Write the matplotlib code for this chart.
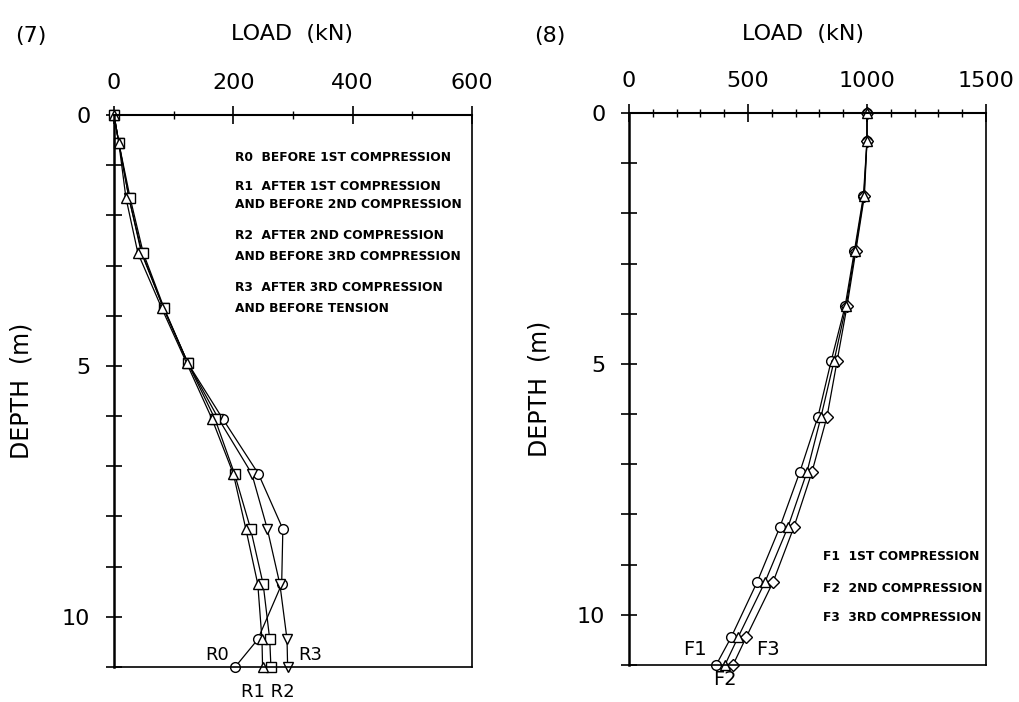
import numpy as np
import matplotlib.pyplot as plt

# depth of gauges (m)
depth = [0, 0.55, 1.65, 2.75, 3.85, 4.95, 6.05, 7.15, 8.25, 9.35, 10.45, 11.0]

# (7) residual loads (kN)
r0 = [0, 8, 25, 46, 83, 124, 182, 242, 283, 281, 241, 203]
r1 = [0, 8, 20, 40, 80, 122, 164, 200, 221, 241, 248, 249]
r2 = [0, 8, 27, 49, 84, 124, 169, 202, 229, 250, 261, 263]
r3 = [0, 8, 25, 47, 83, 124, 175, 231, 257, 278, 290, 291]

# (8) compression loads (kN)
f1 = [1000, 1000, 985, 947, 908, 849, 794, 718, 634, 538, 429, 366]
f2 = [1000, 1000, 987, 950, 912, 861, 807, 748, 668, 571, 458, 403]
f3 = [1000, 1000, 989, 953, 916, 874, 832, 769, 693, 605, 492, 437]

notes_r = ["R0  BEFORE 1ST COMPRESSION",
           "R1  AFTER 1ST COMPRESSION", "AND BEFORE 2ND COMPRESSION",
           "R2  AFTER 2ND COMPRESSION", "AND BEFORE 3RD COMPRESSION",
           "R3  AFTER 3RD COMPRESSION", "AND BEFORE TENSION"]
notes_r_y = [0.84, 1.43, 1.79, 2.41, 2.81, 3.43, 3.86]
notes_f = ["F1  1ST COMPRESSION", "F2  2ND COMPRESSION", "F3  3RD COMPRESSION"]
notes_f_y = [8.84, 9.48, 10.06]

W, H = 1019, 702
fig = plt.figure(figsize=(W / 100, H / 100), dpi=100)
note_font = dict(family=['Liberation Sans Narrow', 'DejaVu Sans'], weight='bold', fontsize=8.8)


def px_axes(x0, y0, x1, y1):
    return fig.add_axes([x0 / W, 1 - y1 / H, (x1 - x0) / W, (y1 - y0) / H])


def style(ax, xmax, xmajor):
    ax.set_xlim(0, xmax)
    ax.set_ylim(11, 0)
    ax.xaxis.tick_top()
    ax.set_xticks(np.arange(0, xmax + 1, xmajor))
    ax.set_xticks(np.arange(0, xmax + 1, 100), minor=True)
    ax.set_yticks([0, 5, 10])
    ax.set_yticks(np.arange(0, 12, 1), minor=True)
    ax.tick_params(axis='x', which='major', direction='inout', length=13, width=1.2,
                   labelsize=16, pad=9)
    ax.tick_params(axis='x', which='minor', direction='inout', length=6, width=1.0)
    ax.tick_params(axis='y', which='both', direction='inout', length=12, width=1.2,
                   labelsize=16, pad=11)
    for s in ax.spines.values():
        s.set_linewidth(1.2)
    ax.spines['left'].set_linewidth(1.8)
    ax.spines['top'].set_linewidth(1.5)


mk = dict(color='black', lw=0.9, markersize=7, markerfacecolor='white',
          markeredgecolor='black', markeredgewidth=1.0, clip_on=False)

# ---- (7)
ax1 = px_axes(114, 115, 472, 667)
style(ax1, 600, 200)
ax1.plot(r0, depth, marker='o', **mk)
ax1.plot(r3, depth, marker='v', **mk)
ax1.plot(r2, depth, marker='s', **mk)
ax1.plot(r1, depth, marker='^', **mk)
for t, yy in zip(notes_r, notes_r_y):
    ax1.text(203, yy, t, va='center', ha='left', **note_font)
ax1.text(173, 10.76, "R0", ha='center', va='center', fontsize=13)
ax1.text(329, 10.76, "R3", ha='center', va='center', fontsize=13)
ax1.text(258, 11.5, "R1 R2", ha='center', va='center', fontsize=13)
ax1.set_ylabel("DEPTH  (m)", fontsize=17)
ax1.yaxis.set_label_coords(-0.226, 0.5)

# ---- (8)
ax2 = px_axes(629, 113, 986, 665)
style(ax2, 1500, 500)
ax2.plot(f1, depth, marker='o', **mk)
ax2.plot(f3, depth, marker='D', **{**mk, 'markersize': 6})
ax2.plot(f2, depth, marker='^', **mk)
for t, yy in zip(notes_f, notes_f_y):
    ax2.text(815, yy, t, va='center', ha='left', **note_font)
ax2.text(277, 10.70, "F1", ha='center', va='center', fontsize=14)
ax2.text(584, 10.70, "F3", ha='center', va='center', fontsize=14)
ax2.text(403, 11.29, "F2", ha='center', va='center', fontsize=14)
ax2.set_ylabel("DEPTH  (m)", fontsize=17)
ax2.yaxis.set_label_coords(-0.218, 0.5)

fig.text(31 / W, 1 - 36 / H, "(7)", ha='center', va='center', fontsize=16)
fig.text(292 / W, 1 - 34 / H, "LOAD  (kN)", ha='center', va='center', fontsize=16)
fig.text(550 / W, 1 - 36 / H, "(8)", ha='center', va='center', fontsize=16)
fig.text(803 / W, 1 - 34 / H, "LOAD  (kN)", ha='center', va='center', fontsize=16)

fig.savefig("out.png", dpi=100)
